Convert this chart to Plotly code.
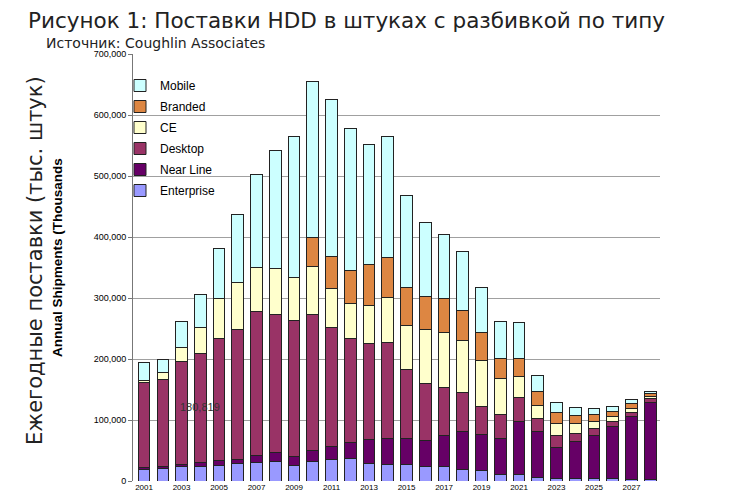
import plotly.graph_objects as go

years = list(range(2001, 2029))

enterprise = [19, 21, 23, 24, 26, 28, 31, 32.5, 26, 32.5, 35, 37, 29, 27.5, 27.5, 24,
              24, 19.4, 17.7, 10.7, 10.7, 6.5, 4.7, 4.3, 3.8, 3.3, 2.5, 2.5]
near_line = [3, 3, 4, 6.5, 8, 8, 11, 15, 14, 17.5, 21, 26, 39, 42, 42, 42,
             50, 62, 59, 59, 87, 75, 51, 61, 71.5, 85.5, 104, 127]
desktop = [139, 142, 169, 178, 200, 212, 235.5, 226, 223, 223, 195, 170.5, 157, 157, 114, 94.5,
           80, 64, 45, 39, 39, 21, 19, 13, 11, 8.2, 5.6, 5]
ce = [4, 12, 23, 43, 65, 78, 73, 75, 71, 79, 65, 58, 63, 74, 72, 87.5,
      90, 85, 76, 60, 34, 22, 19.5, 16, 11, 8.2, 6.5, 4.3]
branded = [0, 0, 0, 0, 0, 0, 0, 0, 0, 46.5, 51.5, 53.5, 67, 65.5, 61, 54.5,
           54.5, 49.5, 46, 32, 30, 22, 17.8, 13.6, 11, 9.2, 8.2, 4.4]
mobile = [30, 21, 43, 55, 82, 111, 152, 193, 230, 256, 258, 233, 197, 199, 152, 122,
          105, 96, 73, 60, 59, 27, 16.4, 13.4, 11, 8.2, 6, 3.8]

series = [
    ("Enterprise", enterprise, "#9999FF"),
    ("Near Line", near_line, "#660066"),
    ("Desktop", desktop, "#993366"),
    ("CE", ce, "#FFFFCC"),
    ("Branded", branded, "#DD8642"),
    ("Mobile", mobile, "#CCFFFF"),
]

xtick_years = years[::2]
yticks = [0, 100000, 200000, 300000, 400000, 500000, 600000, 700000]

title_text = "Рисунок 1: Поставки HDD в штуках с разбивкой по типу"
subtitle_text = "Источник: Coughlin Associates"
ytitle_ru = "Ежегодные поставки (тыс. штук)"
ytitle_en = "<b>Annual Shipments (Thousands</b>"
note_text = "180,819"
note_year = 2004
note_value = 122000

# page has an 8px body margin; work in screen pixels and convert
OFF = 8
W, H = 734, 499
L = 133 - OFF
T = 54 - OFF
B = H - (481 - OFF)
R = W - (660 - OFF)
PW, PH = W - L - R, H - T - B


def px(xs):
    return (xs - OFF - L) / PW


def py(ys):
    return (H - B - (ys - OFF)) / PH


fig = go.Figure()
n = len(series)
for i, (name, vals, color) in enumerate(series):
    fig.add_trace(go.Bar(
        x=years, y=[v * 1000 for v in vals], name=name,
        marker=dict(color=color, line=dict(color="#222222", width=1)),
        legendgroup=name, legendrank=n - i,
    ))

fig.add_annotation(x=note_year, y=note_value, text=note_text, showarrow=False,
                   xref="x", yref="y", font=dict(family="Liberation Sans", size=11, color="#333333"))

fig.update_layout(
    width=W, height=H,
    paper_bgcolor="white", plot_bgcolor="white",
    barmode="stack", bargap=0.38,
    margin=dict(l=L, r=R, t=T, b=B, autoexpand=False),
    title=dict(text=title_text, x=(30 - OFF - 2) / W, xanchor="left", y=1 - (20 - OFF) / H,
               yanchor="middle",
               font=dict(family="DejaVu Sans", size=21.5, color="#222222")),
    font=dict(family="Liberation Sans", color="black"),
    showlegend=True,
    legend=dict(x=px(120), y=py(71), xanchor="left", yanchor="top", traceorder="grouped",
                tracegroupgap=2, bgcolor="rgba(0,0,0,0)",
                font=dict(family="Liberation Sans", size=12, color="black")),
    xaxis=dict(range=[2000.41, 2028.52], tickmode="array", tickvals=xtick_years,
               ticktext=[str(y) for y in xtick_years], tickfont=dict(size=8),
               showgrid=False, showline=False, ticks="", zeroline=False),
    yaxis=dict(range=[0, 700000], tickmode="array", tickvals=yticks, tickformat=",d",
               tickfont=dict(size=9), showgrid=True, gridcolor="#A0A0A0", gridwidth=1,
               showline=True, linecolor="#777777", ticks="outside", ticklen=4,
               tickcolor="#777777", zeroline=False),
)

fig.add_annotation(x=px(44), y=py(43), xref="paper", yref="paper", xanchor="left", yanchor="middle",
                   text=subtitle_text, showarrow=False,
                   font=dict(family="DejaVu Sans", size=14, color="#222222"))
fig.add_annotation(x=px(35), y=py(261), xref="paper", yref="paper", xanchor="center", yanchor="middle",
                   text=ytitle_ru, textangle=-90, showarrow=False,
                   font=dict(family="DejaVu Sans", size=21, color="#222222"))
fig.add_annotation(x=px(57), y=py(258), xref="paper", yref="paper", xanchor="center", yanchor="middle",
                   text=ytitle_en, textangle=-90, showarrow=False,
                   font=dict(family="Liberation Sans", size=13.5, color="black"))

fig.write_html("out.html")
